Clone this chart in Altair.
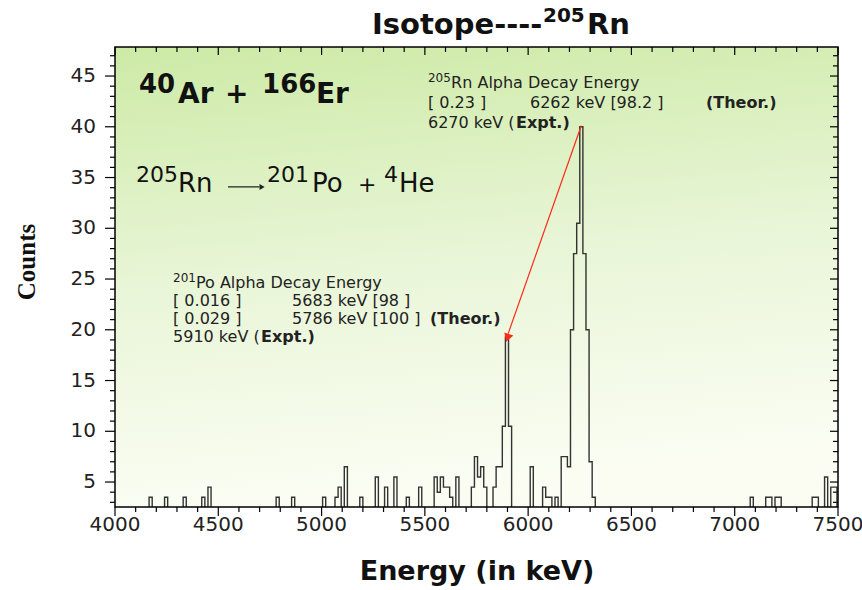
import altair as alt
import pandas as pd

# ---------------- data ----------------
BIN_WIDTH = 15  # keV
bin_start = [4165, 4240, 4330, 4420, 4450, 4780, 4855, 5005, 5065, 5080, 5110,
             5185, 5260, 5305, 5350, 5410, 5470,
             5545, 5560, 5575, 5590, 5605, 5620, 5650,
             5725, 5740, 5755, 5770, 5785,
             5830, 5845, 5860, 5875, 5890, 5905,
             6010, 6070, 6085, 6100, 6130,
             6160, 6175, 6190, 6205, 6220, 6235, 6250, 6265, 6280, 6295, 6310,
             7075, 7150, 7165, 7195, 7210, 7375, 7390, 7435, 7465, 7480]
counts = [3.5, 3.5, 3.5, 3.5, 4.5, 3.5, 3.5, 3.5, 3.5, 4.5, 6.5,
          3.5, 5.5, 4.5, 5.5, 3.5, 4.5,
          5.5, 4.0, 5.5, 4.5, 4.5, 3.5, 5.5,
          4.5, 7.5, 5.5, 6.5, 4.5,
          4.5, 6.5, 6.5, 10.5, 19.3, 10.5,
          6.5, 4.5, 3.5, 3.5, 3.5,
          7.5, 7.5, 6.5, 20, 27.5, 30.5, 40, 27.5, 20, 7.0, 3.5,
          3.5, 3.5, 3.5, 3.5, 3.5, 3.5, 3.5, 5.5, 4.5, 4.5]

x_major = list(range(4000, 7501, 500))
x_minor = [v for v in range(4000, 7501, 100) if v % 500]
y_major = list(range(5, 46, 5))
y_minor = [v for v in range(3, 48) if v % 5]

X_DOMAIN = [4000, 7500]
Y_DOMAIN = [2.54, 47.86]

# annotation texts and their anchors (energy in keV, counts)
notes_text = ["Rn Alpha Decay Energy", "[ 0.23 ]", "6262 keV [98.2 ]", "6270 keV (",
              "Po Alpha Decay Energy", "[ 0.016 ]", "5683 keV [98 ]", "[ 0.029 ]",
              "5786 keV [100 ]", "5910 keV ("]
notes_E = [5627, 5515, 6009, 5515, 4392, 4281, 4857, 4281, 4857, 4281]
notes_N = [43.82, 41.85, 41.85, 39.88, 24.12, 22.34, 22.34, 20.57, 20.57, 18.80]

bold_text = ["(Theor.)", "Expt.)", "(Theor.)", "Expt.)"]
bold_E = [6861, 5941, 5525, 4707]
bold_N = [41.85, 39.88, 20.57, 18.80]

sup_text = ["205", "201"]
sup_E = [5515, 4281]
sup_N = [44.41, 24.71]

react_num_text = ["205", "201", "+", "4"]
react_num_E = [4102, 4736, 5176, 5302]
react_num_N = [34.56, 34.56, 33.57, 34.56]

react_sym_text = ["Rn", "Po", "He"]
react_sym_E = [4305, 4954, 5375]
react_sym_N = [33.57, 33.57, 33.57]

beam_num_text = ["40", "166"]
beam_num_E = [4116, 4712]
beam_num_N = [43.33, 43.33]

beam_sym_text = ["Ar", "+", "Er"]
beam_sym_E = [4305, 4532, 4973]
beam_sym_N = [42.34, 42.34, 42.34]

# ---------------- build ----------------
W, H = 723, 460
XS = alt.Scale(domain=X_DOMAIN, nice=False, zero=False)
YS = alt.Scale(domain=Y_DOMAIN, nice=False, zero=False)

lookup = dict(zip(bin_start, counts))
n_bins = (X_DOMAIN[1] - X_DOMAIN[0]) // BIN_WIDTH + 1
energies = [X_DOMAIN[0] + i * BIN_WIDTH for i in range(n_bins)] + [X_DOMAIN[1]]
hist = pd.DataFrame({"E": energies, "N": [lookup.get(e, 0) for e in energies]})

one = alt.Data(values=[{}])


def ex(field="E"):
    return alt.X(f"{field}:Q", scale=XS, axis=None)


def ny(field="N"):
    return alt.Y(f"{field}:Q", scale=YS, axis=None)


grad = alt.LinearGradient(
    gradient="linear",
    stops=[alt.GradientStop(color="#cdeaa6", offset=0),
           alt.GradientStop(color="#e8f5d6", offset=0.5),
           alt.GradientStop(color="#fbfdf3", offset=1)],
    x1=0, x2=0.15, y1=0, y2=1)
bg = alt.Chart(one).mark_rect(fill=grad).encode(
    x=alt.value(0), x2=alt.value(W), y=alt.value(0), y2=alt.value(H))

frame = alt.Chart(one).mark_rect(fillOpacity=0, stroke="black", strokeWidth=1.5).encode(
    x=alt.value(0), x2=alt.value(W), y=alt.value(0), y2=alt.value(H))


def xrules(vals, y0, y1):
    return alt.Chart(pd.DataFrame({"E": vals})).mark_rule(color="black", strokeWidth=1.2).encode(
        x=ex(), y=alt.value(y0), y2=alt.value(y1))


def yrules(vals, x0, x1):
    return alt.Chart(pd.DataFrame({"N": vals})).mark_rule(color="black", strokeWidth=1.2).encode(
        y=ny(), x=alt.value(x0), x2=alt.value(x1))


ticks = [
    xrules(x_major, H, H + 9), xrules(x_minor, H, H + 5),
    xrules(x_major, 0, 8), xrules(x_minor, 0, 5),
    yrules(y_major, -10, 0), yrules(y_minor, -5, 0),
    yrules(y_major, W - 8, W), yrules(y_minor, W - 5, W),
]

x_labels = alt.Chart(pd.DataFrame({"E": x_major})).mark_text(
    align="center", baseline="alphabetic", font="DejaVu Sans", fontSize=20, color="#222"
).encode(x=ex(), y=alt.value(H + 24), text=alt.Text("E:Q", format="d"))

y_labels = alt.Chart(pd.DataFrame({"N": y_major})).mark_text(
    align="right", baseline="middle", font="DejaVu Sans", fontSize=20, color="#222"
).encode(y=ny(), x=alt.value(-19), text=alt.Text("N:Q", format="d"))

hist_layer = alt.Chart(hist).mark_line(
    interpolate="step-after", clip=True, color="#333333", strokeWidth=1.4
).encode(x=ex(), y=ny())


def notes(texts, es, ns, size, weight="normal", color="#222"):
    df = pd.DataFrame({"E": es, "N": ns, "label": texts})
    return alt.Chart(df).mark_text(
        align="left", baseline="alphabetic", font="DejaVu Sans",
        fontSize=size, fontWeight=weight, color=color
    ).encode(x=ex(), y=ny(), text="label:N")


texts = [
    notes(notes_text, notes_E, notes_N, 16),
    notes(bold_text, bold_E, bold_N, 16, "bold"),
    notes(sup_text, sup_E, sup_N, 12),
    notes(react_num_text, react_num_E, react_num_N, 22, color="#111"),
    notes(react_sym_text, react_sym_E, react_sym_N, 26, color="#111"),
    notes(beam_num_text, beam_num_E, beam_num_N, 26, "bold", "#111"),
    notes(beam_sym_text, beam_sym_E, beam_sym_N, 28, "bold", "#111"),
]

arrow_df = pd.DataFrame({"E": [6257], "N": [40.1], "E2": [5903], "N2": [19.6]})
arrow = alt.Chart(arrow_df).mark_rule(color="#ff2a1a", strokeWidth=1.2).encode(
    x=ex(), y=ny(), x2="E2:Q", y2="N2:Q")
head = alt.Chart(pd.DataFrame({"E": [5900], "N": [19.2]})).mark_point(
    shape="triangle-up", angle=199, size=90, filled=True, color="#ff2a1a", opacity=1
).encode(x=ex(), y=ny())

r_arrow = alt.Chart(pd.DataFrame({"E": [4547], "N": [34.07], "E2": [4700]})).mark_rule(
    color="#222", strokeWidth=1.2).encode(x=ex(), y=ny(), x2="E2:Q")
r_head = alt.Chart(pd.DataFrame({"E": [4712], "N": [34.07]})).mark_point(
    shape="triangle-right", size=35, filled=True, color="#222", opacity=1
).encode(x=ex(), y=ny())


def px_text(text, x, y, size, weight="bold", font="DejaVu Sans", align="left",
            angle=0, baseline="alphabetic"):
    return alt.Chart(one).mark_text(
        text=text, align=align, baseline=baseline, font=font, fontSize=size,
        fontWeight=weight, angle=angle, color="#111"
    ).encode(x=alt.value(x), y=alt.value(y))


outside = [
    px_text("Isotope----", 257, -13, 29),
    px_text("205", 428, -25, 20),
    px_text("Rn", 472, -13, 29),
    px_text("Energy (in keV)", 362, 533, 27, align="center"),
    px_text("Counts", -88, 215, 25, font="Liberation Serif", align="center",
            angle=270, baseline="middle"),
]

chart = alt.layer(
    bg, *ticks, hist_layer, x_labels, y_labels, *texts, arrow, head, r_arrow, r_head,
    frame, *outside
).properties(
    width=W, height=H,
    autosize=alt.AutoSizeParams(type="none"),
    padding={"left": 115, "top": 47, "right": 24, "bottom": 83},
).configure_view(strokeWidth=0)

chart.save("out.html", embed_options={"renderer": "svg", "actions": False})
